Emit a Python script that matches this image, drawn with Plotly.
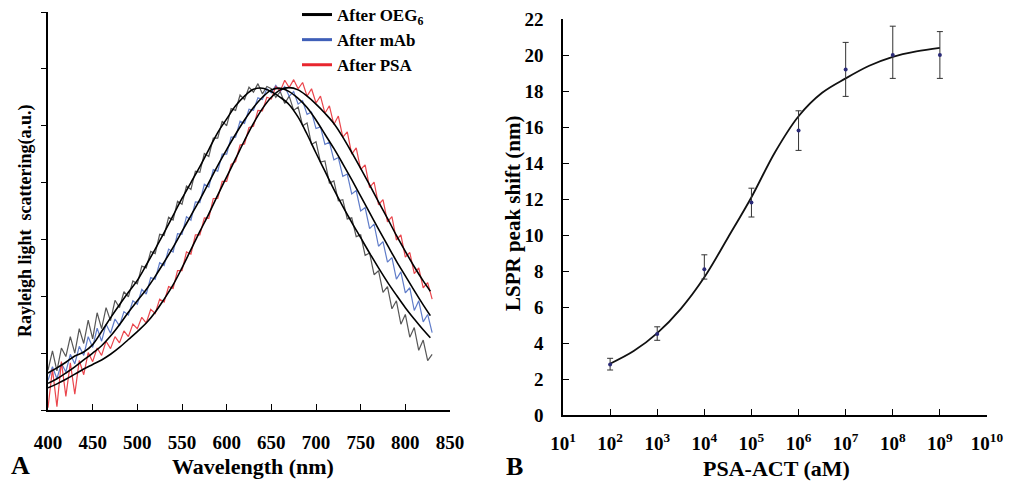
import plotly.graph_objects as go

# ---------------- Panel A data ----------------
wl = list(range(400, 835, 5))
wl_fit = list(range(400, 830, 10)) + [828]

oeg6_raw = [0.70, 1.04, 0.69, 1.09, 0.94, 1.29, 1.00, 1.43, 1.17, 1.58, 1.25, 1.71, 1.43, 1.80, 1.57, 1.93,
            1.80, 2.08, 1.99, 2.27, 2.22, 2.53, 2.50, 2.79, 2.75, 3.09, 3.07, 3.39, 3.34, 3.67, 3.62, 3.94,
            3.88, 4.20, 4.18, 4.51, 4.46, 4.78, 4.78, 5.08, 5.00, 5.30, 5.27, 5.54, 5.46, 5.68, 5.59, 5.74,
            5.56, 5.69, 5.65, 5.50, 5.60, 5.39, 5.52, 5.27, 5.33, 5.00, 5.05, 4.67, 4.72, 4.36, 4.38, 3.99,
            4.03, 3.68, 3.70, 3.36, 3.38, 3.05, 3.08, 2.72, 2.76, 2.38, 2.45, 2.07, 2.17, 1.78, 1.92, 1.51,
            1.68, 1.28, 1.45, 1.05, 1.23, 0.87, 0.98]
mab_raw = [0.52, 0.76, 0.55, 0.82, 0.67, 0.98, 0.81, 1.12, 0.96, 1.29, 1.10, 1.44, 1.21, 1.51, 1.35, 1.60,
           1.48, 1.73, 1.67, 1.92, 1.86, 2.12, 2.04, 2.33, 2.30, 2.59, 2.54, 2.83, 2.78, 3.10, 3.09, 3.40,
           3.34, 3.66, 3.65, 3.97, 3.92, 4.23, 4.20, 4.50, 4.50, 4.80, 4.80, 5.08, 5.04, 5.29, 5.27, 5.49,
           5.46, 5.65, 5.58, 5.71, 5.60, 5.69, 5.52, 5.60, 5.38, 5.44, 5.20, 5.24, 4.95, 4.98, 4.67, 4.71,
           4.40, 4.44, 4.11, 4.15, 3.80, 3.86, 3.50, 3.56, 3.19, 3.27, 2.88, 2.96, 2.60, 2.68, 2.30, 2.43,
           2.06, 2.15, 1.75, 1.92, 1.55, 1.68, 1.36]
psa_raw = [0.04, 0.72, 0.06, 0.85, 0.24, 0.83, 0.28, 0.87, 0.62, 1.01, 0.85, 1.09, 0.96, 1.21, 1.08, 1.29,
           1.18, 1.39, 1.29, 1.51, 1.43, 1.63, 1.53, 1.77, 1.70, 1.95, 1.90, 2.17, 2.14, 2.45, 2.45, 2.78,
           2.74, 3.08, 3.08, 3.38, 3.37, 3.72, 3.72, 4.02, 4.02, 4.32, 4.37, 4.66, 4.68, 4.97, 4.99, 5.27,
           5.26, 5.50, 5.47, 5.69, 5.61, 5.80, 5.67, 5.81, 5.65, 5.76, 5.52, 5.65, 5.40, 5.52, 5.22, 5.35,
           5.02, 5.17, 4.80, 4.89, 4.50, 4.61, 4.23, 4.31, 3.91, 4.01, 3.61, 3.70, 3.31, 3.40, 2.99, 3.08,
           2.69, 2.77, 2.40, 2.50, 2.15, 2.24, 1.95]

oeg6_fit = [0.65, 0.74, 0.84, 0.95, 1.02, 1.15, 1.38, 1.62, 1.85, 2.07, 2.28, 2.55, 2.83, 3.12, 3.42, 3.72,
            4.00, 4.28, 4.58, 4.88, 5.12, 5.35, 5.52, 5.64, 5.66, 5.60, 5.50, 5.37, 5.15, 4.85, 4.52, 4.20,
            3.88, 3.58, 3.30, 3.03, 2.76, 2.50, 2.25, 2.02, 1.80, 1.60, 1.41, 1.27]
mab_fit = [0.47, 0.55, 0.65, 0.76, 0.88, 1.00, 1.13, 1.30, 1.50, 1.72, 1.92, 2.12, 2.35, 2.60, 2.86, 3.14,
           3.42, 3.70, 4.00, 4.30, 4.58, 4.85, 5.10, 5.32, 5.50, 5.63, 5.66, 5.60, 5.48, 5.32, 5.10, 4.85,
           4.60, 4.33, 4.05, 3.76, 3.47, 3.18, 2.90, 2.62, 2.36, 2.10, 1.85, 1.66]
psa_fit = [0.39, 0.46, 0.54, 0.63, 0.72, 0.80, 0.88, 0.98, 1.10, 1.24, 1.38, 1.53, 1.72, 1.95, 2.20, 2.50,
           2.82, 3.14, 3.45, 3.78, 4.10, 4.42, 4.74, 5.04, 5.30, 5.50, 5.63, 5.67, 5.63, 5.52, 5.38, 5.22,
           5.04, 4.80, 4.53, 4.25, 3.96, 3.66, 3.37, 3.07, 2.79, 2.52, 2.27, 2.09]

series_names = ["After OEG<sub>6</sub>", "After mAb", "After PSA"]
series_colors = ["#3a3a3a", "#4466c0", "#e8262e"]
legend_colors = ["black", "#3f5fb8", "#e8262e"]

# ---------------- Panel B data ----------------
conc = [1e2, 1e3, 1e4, 1e5, 1e6, 1e7, 1e8, 1e9]
shift = [2.8, 4.5, 8.1, 11.8, 15.8, 19.2, 20.0, 20.0]
err_up = [0.35, 0.4, 0.8, 0.8, 1.1, 1.5, 1.6, 1.3]
err_dn = [0.3, 0.35, 0.55, 0.8, 1.1, 1.5, 1.3, 1.3]
conc_fit = [1e2, 10**2.5, 1e3, 10**3.5, 1e4, 10**4.5, 1e5, 10**5.5, 1e6, 10**6.5, 1e7, 10**7.5, 1e8, 10**8.5, 1e9]
shift_fit = [2.85, 3.55, 4.55, 5.9, 7.65, 9.85, 12.1, 14.6, 16.6, 17.9, 18.7, 19.4, 19.9, 20.2, 20.4]
xb_tickvals = [10**k for k in range(1, 11)]
xb_ticktext = ["10<sup>%d</sup>" % k for k in range(1, 11)]
yb_tickvals = list(range(0, 23, 2))
xa_tickvals = list(range(400, 851, 50))

FONT = "Liberation Serif"
W, H = 1017, 488

fig = go.Figure()

raws = [oeg6_raw, mab_raw, psa_raw]
fits = [oeg6_fit, mab_fit, psa_fit]
for name, col, raw in zip(series_names, series_colors, raws):
    fig.add_trace(go.Scatter(x=wl, y=raw, mode="lines", line=dict(color=col, width=1.2),
                             opacity=0.85, showlegend=False, xaxis="x", yaxis="y", hoverinfo="skip"))
for fit in fits:
    fig.add_trace(go.Scatter(x=wl_fit, y=fit, mode="lines", line=dict(color="black", width=1.6, shape="spline"),
                             showlegend=False, xaxis="x", yaxis="y"))
# legend entries
for name, col in zip(series_names, legend_colors):
    fig.add_trace(go.Scatter(x=[None], y=[None], mode="lines", line=dict(color=col, width=3),
                             name=name, showlegend=True, xaxis="x", yaxis="y"))

# Panel B
fig.add_trace(go.Scatter(x=conc_fit, y=shift_fit, mode="lines", line=dict(color="#111111", width=1.8, shape="spline"),
                         showlegend=False, xaxis="x2", yaxis="y2"))
fig.add_trace(go.Scatter(x=conc, y=shift, mode="markers",
                         marker=dict(color="#2b2b78", size=4),
                         error_y=dict(type="data", symmetric=False, array=err_up, arrayminus=err_dn,
                                      color="#333333", thickness=1, width=3),
                         showlegend=False, xaxis="x2", yaxis="y2"))

def px_x(p):
    return p / W

def px_y(p):
    return (H - p) / H

tickfont = dict(family=FONT, size=19, color="black", weight="bold")
axcommon = dict(showline=True, linecolor="black", linewidth=1.5, showgrid=False, zeroline=False,
                tickcolor="black", tickwidth=1.3, tickfont=tickfont, automargin=False)

fig.update_layout(
    width=W, height=H, margin=dict(l=0, r=0, t=0, b=0, autoexpand=False),
    paper_bgcolor="white", plot_bgcolor="white",
    font=dict(family=FONT, color="black"),
    xaxis=dict(domain=[px_x(48), px_x(450)], range=[400, 850], tickvals=xa_tickvals, ticks="inside",
               ticklen=6, anchor="y", ticklabelstandoff=14, **axcommon),
    yaxis=dict(domain=[px_y(410), px_y(12)], range=[0, 7], tickvals=list(range(0, 8)), ticks="outside",
               ticklen=5, showticklabels=False, anchor="x", **axcommon),
    xaxis2=dict(domain=[px_x(563), px_x(987)], type="log", range=[1, 10], tickvals=xb_tickvals,
                ticktext=xb_ticktext, ticks="inside", ticklen=6, anchor="y2", ticklabelstandoff=10, **axcommon),
    yaxis2=dict(domain=[px_y(415), px_y(19)], range=[0, 22], tickvals=yb_tickvals, ticks="inside",
                ticklen=6, anchor="x2", ticklabelstandoff=14, **axcommon),
    legend=dict(x=px_x(297), y=px_y(-3), xanchor="left", yanchor="top", bgcolor="rgba(0,0,0,0)",
                font=dict(family=FONT, size=17, color="black", weight="bold"), itemwidth=30,
                tracegroupgap=0),
    showlegend=True,
)

annos = [
    dict(text="Wavelength (nm)", x=px_x(253), y=px_y(466), size=22, angle=0),
    dict(text="Rayleigh light  scattering(a.u.)", x=px_x(25), y=px_y(221), size=18, angle=-90),
    dict(text="A", x=px_x(20), y=px_y(465), size=26, angle=0),
    dict(text="PSA-ACT (aM)", x=px_x(776), y=px_y(468), size=22, angle=0),
    dict(text="LSPR peak shift (nm)", x=px_x(513), y=px_y(214), size=21, angle=-90),
    dict(text="B", x=px_x(514), y=px_y(466), size=26, angle=0),
]
for a in annos:
    fig.add_annotation(text=a["text"], x=a["x"], y=a["y"], xref="paper", yref="paper",
                       xanchor="center", yanchor="middle", showarrow=False, textangle=a["angle"],
                       font=dict(family=FONT, size=a["size"], color="black", weight="bold"))

fig.write_html("out.html")
